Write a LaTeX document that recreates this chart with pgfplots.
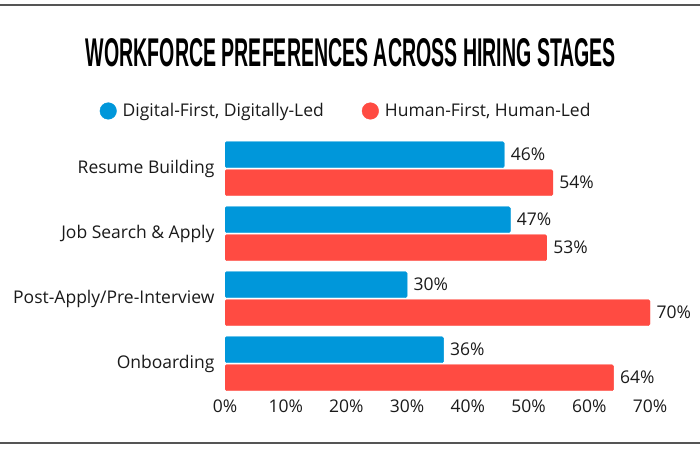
\documentclass[border=0pt]{standalone}
\usepackage{pgfplots}
\pgfplotsset{compat=1.18}
\usepackage{fontspec}
\setmainfont{Open Sans}
\newfontfamily\titlefont{Liberation Sans}
\definecolor{digiblue}{HTML}{0097DA}
\definecolor{humanred}{HTML}{FF4B42}
\definecolor{txt}{HTML}{1A1A1A}
\definecolor{rule}{HTML}{555555}
\begin{document}
\begin{tikzpicture}[x=1pt,y=1pt]
\useasboundingbox (0,0) rectangle (700,450);
\draw[rule, line width=1.4pt] (0,445) -- (700,445);
\draw[rule, line width=1.4pt] (0,7) -- (700,7);
\node[black, anchor=base, inner sep=0pt] at (351,383) {\resizebox{530pt}{28pt}{\titlefont\bfseries WORKFORCE PREFERENCES ACROSS HIRING STAGES}};
\begin{axis}[
    at={(225pt,53.8pt)}, anchor=south west,
    scale only axis,
    width=425pt, height=260pt,
    xmin=0, xmax=70,
    ymin=-0.5, ymax=3.5,
    axis line style={draw=none},
    major tick length=0pt,
    xtick={0,10,...,70},
    xticklabel={\pgfmathprintnumber{\tick}\%},
    ytick={0,1,2,3},
    yticklabels={Onboarding, Post-Apply/Pre-Interview, Job Search \& Apply, Resume Building},
    tick label style={font=\fontsize{17.5}{19}\selectfont, text=txt},
    /pgf/number format/assume math mode=true,
    yticklabel style={xshift=-7pt},
    xbar, bar width=26pt,
    nodes near coords={\pgfmathprintnumber{\pgfplotspointmeta}\%},
    every node near coord/.append style={font=\fontsize{17.5}{19}\selectfont, text=txt, xshift=3pt},
    legend columns=2,
    legend style={at={(axis description cs:0.285,1.097)}, anchor=center, draw=none, fill=none,
        font=\fontsize{17.5}{19}\selectfont, text=txt,
        /tikz/every odd column/.append style={column sep=4pt},
        /tikz/every even column/.append style={column sep=36pt}},
    legend image code/.code={\fill[#1] (0pt,0pt) circle (8.3pt);},
    legend cell align=left,
]
\addplot[fill=digiblue, draw=digiblue, rounded corners=1.5pt, bar shift=14pt]
    coordinates {(46,3) (47,2) (30,1) (36,0)};
\addlegendentry{Digital-First, Digitally-Led}
\addplot[fill=humanred, draw=humanred, rounded corners=1.5pt, bar shift=-14pt]
    coordinates {(54,3) (53,2) (70,1) (64,0)};
\addlegendentry{Human-First, Human-Led}
\end{axis}
\end{tikzpicture}
\end{document}
